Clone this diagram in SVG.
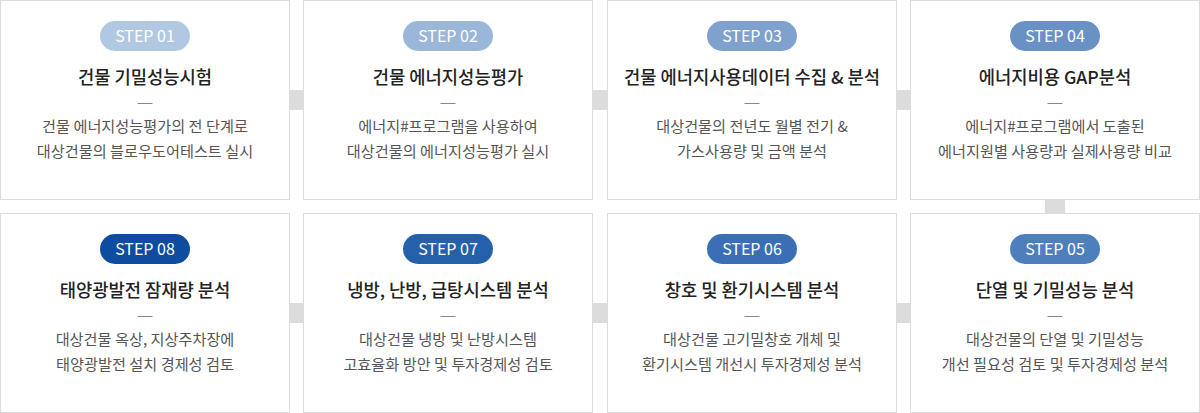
<svg xmlns="http://www.w3.org/2000/svg" width="1200" height="413" viewBox="0 0 1200 413">
<style>
.card{fill:#fff;stroke:#dcdcdc;stroke-width:1}
.conn{fill:#dcdcdc}
.step{font-family:"Noto Sans CJK KR","Noto Sans",sans-serif;font-size:16px;font-weight:400;fill:#fff;text-anchor:middle}
.title{font-family:"Noto Sans CJK KR",sans-serif;font-size:17.7px;font-weight:500;fill:#222;text-anchor:middle}
.desc{font-family:"Noto Sans CJK KR",sans-serif;font-size:15.2px;fill:#555;text-anchor:middle}
.dash{stroke:#888;stroke-width:1}
</style>
<rect width="1200" height="413" fill="#fff"/>
<g id="connectors">
<rect class="conn" x="289" y="90" width="15" height="20"/>
<rect class="conn" x="593" y="90" width="15" height="20"/>
<rect class="conn" x="896" y="90" width="15" height="20"/>
<rect class="conn" x="1045" y="200" width="20" height="13"/>
<rect class="conn" x="289" y="303" width="15" height="20"/>
<rect class="conn" x="593" y="303" width="15" height="20"/>
<rect class="conn" x="896" y="303" width="15" height="20"/>
</g>
<g id="step01">
<rect class="card" x="0.5" y="0.5" width="289" height="199"/>
<rect x="100" y="21" width="90" height="30" rx="15" fill="#b1c8e2"/>
<text class="step" x="145" y="41.5">STEP 01</text>
<text class="title" x="145" y="84">건물 기밀성능시험</text>
<line class="dash" x1="137.5" y1="103.5" x2="152.5" y2="103.5"/>
<text class="desc" x="145" y="132">건물 에너지성능평가의 전 단계로</text>
<text class="desc" x="145" y="157">대상건물의 블로우도어테스트 실시</text>
</g>
<g id="step02">
<rect class="card" x="303.5" y="0.5" width="289" height="199"/>
<rect x="403" y="21" width="90" height="30" rx="15" fill="#9ab6d8"/>
<text class="step" x="448" y="41.5">STEP 02</text>
<text class="title" x="448" y="84">건물 에너지성능평가</text>
<line class="dash" x1="440.5" y1="103.5" x2="455.5" y2="103.5"/>
<text class="desc" x="448" y="132">에너지#프로그램을 사용하여</text>
<text class="desc" x="448" y="157">대상건물의 에너지성능평가 실시</text>
</g>
<g id="step03">
<rect class="card" x="607.5" y="0.5" width="289" height="199"/>
<rect x="707" y="21" width="90" height="30" rx="15" fill="#7fa1cd"/>
<text class="step" x="752" y="41.5">STEP 03</text>
<text class="title" x="752" y="84">건물 에너지사용데이터 수집 &amp; 분석</text>
<line class="dash" x1="744.5" y1="103.5" x2="759.5" y2="103.5"/>
<text class="desc" x="752" y="132">대상건물의 전년도 월별 전기 &amp;</text>
<text class="desc" x="752" y="157">가스사용량 및 금액 분석</text>
</g>
<g id="step04">
<rect class="card" x="910.5" y="0.5" width="289" height="199"/>
<rect x="1010" y="21" width="90" height="30" rx="15" fill="#6a91c5"/>
<text class="step" x="1055" y="41.5">STEP 04</text>
<text class="title" x="1055" y="84">에너지비용 GAP분석</text>
<line class="dash" x1="1047.5" y1="103.5" x2="1062.5" y2="103.5"/>
<text class="desc" x="1055" y="132">에너지#프로그램에서 도출된</text>
<text class="desc" x="1055" y="157">에너지원별 사용량과 실제사용량 비교</text>
</g>
<g id="step05">
<rect class="card" x="910.5" y="213.5" width="289" height="199"/>
<rect x="1010" y="234" width="90" height="30" rx="15" fill="#4e7fbd"/>
<text class="step" x="1055" y="254.5">STEP 05</text>
<text class="title" x="1055" y="297">단열 및 기밀성능 분석</text>
<line class="dash" x1="1047.5" y1="316.5" x2="1062.5" y2="316.5"/>
<text class="desc" x="1055" y="345">대상건물의 단열 및 기밀성능</text>
<text class="desc" x="1055" y="370">개선 필요성 검토 및 투자경제성 분석</text>
</g>
<g id="step06">
<rect class="card" x="607.5" y="213.5" width="289" height="199"/>
<rect x="707" y="234" width="90" height="30" rx="15" fill="#3a6fb5"/>
<text class="step" x="752" y="254.5">STEP 06</text>
<text class="title" x="752" y="297">창호 및 환기시스템 분석</text>
<line class="dash" x1="744.5" y1="316.5" x2="759.5" y2="316.5"/>
<text class="desc" x="752" y="345">대상건물 고기밀창호 개체 및</text>
<text class="desc" x="752" y="370">환기시스템 개선시 투자경제성 분석</text>
</g>
<g id="step07">
<rect class="card" x="303.5" y="213.5" width="289" height="199"/>
<rect x="403" y="234" width="90" height="30" rx="15" fill="#2560ab"/>
<text class="step" x="448" y="254.5">STEP 07</text>
<text class="title" x="448" y="297">냉방, 난방, 급탕시스템 분석</text>
<line class="dash" x1="440.5" y1="316.5" x2="455.5" y2="316.5"/>
<text class="desc" x="448" y="345">대상건물 냉방 및 난방시스템</text>
<text class="desc" x="448" y="370">고효율화 방안 및 투자경제성 검토</text>
</g>
<g id="step08">
<rect class="card" x="0.5" y="213.5" width="289" height="199"/>
<rect x="100" y="234" width="90" height="30" rx="15" fill="#0d4c9e"/>
<text class="step" x="145" y="254.5">STEP 08</text>
<text class="title" x="145" y="297">태양광발전 잠재량 분석</text>
<line class="dash" x1="137.5" y1="316.5" x2="152.5" y2="316.5"/>
<text class="desc" x="145" y="345">대상건물 옥상, 지상주차장에</text>
<text class="desc" x="145" y="370">태양광발전 설치 경제성 검토</text>
</g>
</svg>
